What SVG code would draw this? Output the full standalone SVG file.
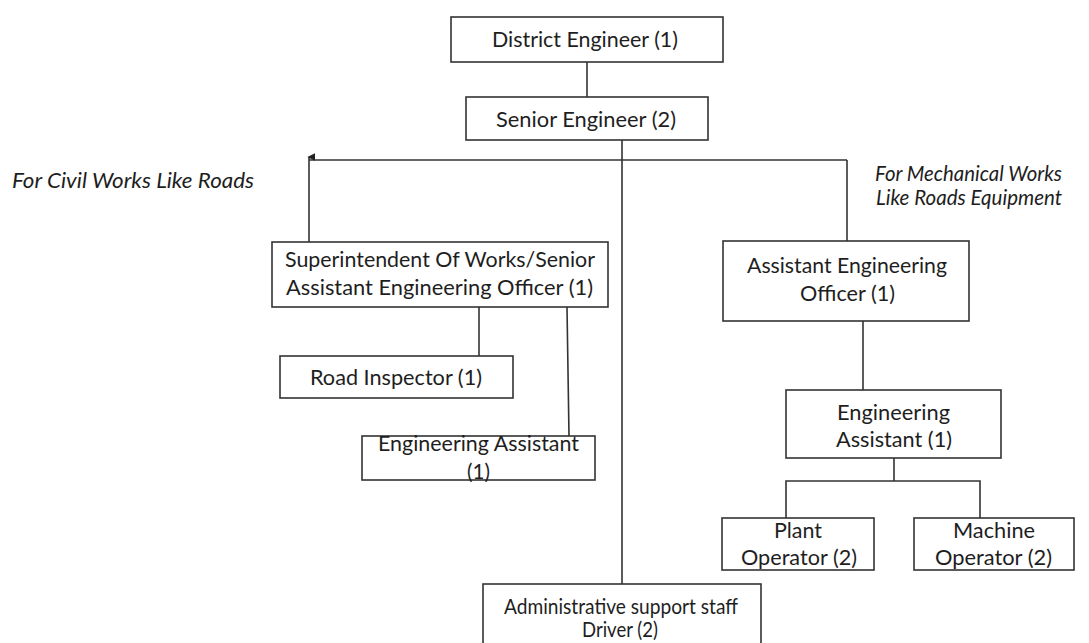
<svg xmlns="http://www.w3.org/2000/svg" width="1089" height="643" viewBox="0 0 1089 643">
<defs>
<style>
.box{fill:#fff;stroke:#333;stroke-width:1.6}
.ln{stroke:#333;stroke-width:1.6;fill:none}
text{font-family:Lato,"Open Sans","Liberation Sans",sans-serif;font-size:21px;fill:#1e1e1e;text-anchor:start}
.it{font-style:italic}
</style>
<marker id="arr" viewBox="0 0 10 10" refX="5" refY="2" markerWidth="8" markerHeight="8" markerUnits="userSpaceOnUse" orient="auto-start-reverse">
<path d="M0,10 L5,0 L10,10 Z" fill="#222"/>
</marker>
</defs>
<rect width="1089" height="643" fill="#fff"/>
<g id="connectors">
<line class="ln" x1="587" y1="62" x2="587" y2="97"/>
<line class="ln" x1="622" y1="140" x2="622" y2="584"/>
<line class="ln" x1="309" y1="160" x2="847" y2="160"/>
<path class="ln" d="M309,242 L309,157" marker-end="url(#arr)"/>
<line class="ln" x1="847" y1="160" x2="847" y2="241"/>
<line class="ln" x1="479" y1="307" x2="479" y2="356"/>
<line class="ln" x1="567" y1="307" x2="569" y2="436"/>
<line class="ln" x1="863" y1="321" x2="863" y2="390"/>
<line class="ln" x1="894" y1="458" x2="894" y2="481"/>
<path class="ln" d="M786,518 L786,481 L980,481 L980,518"/>
</g>
<g id="labels">
<text class="it" x="12" y="188" textLength="242" lengthAdjust="spacingAndGlyphs">For Civil Works Like Roads</text>
<text class="it" x="875" y="181" textLength="187" lengthAdjust="spacingAndGlyphs">For Mechanical Works</text>
<text class="it" x="876" y="205" textLength="186" lengthAdjust="spacingAndGlyphs">Like Roads Equipment</text>
</g>
<g id="district-engineer">
<rect class="box" x="451" y="17" width="272" height="45"/>
<text x="492" y="47" textLength="186" lengthAdjust="spacingAndGlyphs">District Engineer (1)</text>
</g>
<g id="senior-engineer">
<rect class="box" x="466" y="97" width="242" height="43"/>
<text x="496" y="127" textLength="180" lengthAdjust="spacingAndGlyphs">Senior Engineer (2)</text>
</g>
<g id="superintendent">
<rect class="box" x="272" y="242" width="336" height="65"/>
<text x="285" y="267" textLength="310" lengthAdjust="spacingAndGlyphs">Superintendent Of Works/Senior</text>
<text x="286" y="295" textLength="307" lengthAdjust="spacingAndGlyphs">Assistant Engineering  Officer (1)</text>
</g>
<g id="assistant-engineering-officer">
<rect class="box" x="723" y="241" width="246" height="80"/>
<text x="747" y="273" textLength="200" lengthAdjust="spacingAndGlyphs">Assistant Engineering</text>
<text x="800" y="301" textLength="95" lengthAdjust="spacingAndGlyphs">Officer (1)</text>
</g>
<g id="road-inspector">
<rect class="box" x="280" y="356" width="233" height="42"/>
<text x="310" y="385" textLength="172" lengthAdjust="spacingAndGlyphs">Road Inspector (1)</text>
</g>
<g id="engineering-assistant-left">
<rect class="box" x="362" y="436" width="233" height="44"/>
<text x="378" y="451" textLength="201" lengthAdjust="spacingAndGlyphs">Engineering Assistant</text>
<text x="467" y="479" textLength="23" lengthAdjust="spacingAndGlyphs">(1)</text>
</g>
<g id="engineering-assistant-right">
<rect class="box" x="786" y="390" width="215" height="68"/>
<text x="837" y="420" textLength="113" lengthAdjust="spacingAndGlyphs">Engineering</text>
<text x="836" y="447" textLength="116" lengthAdjust="spacingAndGlyphs">Assistant (1)</text>
</g>
<g id="plant-operator">
<rect class="box" x="722" y="518" width="152" height="52"/>
<text x="774" y="538" textLength="48" lengthAdjust="spacingAndGlyphs">Plant</text>
<text x="741" y="565" textLength="116" lengthAdjust="spacingAndGlyphs">Operator (2)</text>
</g>
<g id="machine-operator">
<rect class="box" x="914" y="518" width="160" height="52"/>
<text x="953" y="538" textLength="82" lengthAdjust="spacingAndGlyphs">Machine</text>
<text x="935" y="565" textLength="117" lengthAdjust="spacingAndGlyphs">Operator (2)</text>
</g>
<g id="admin-staff">
<rect class="box" x="483" y="584" width="278" height="70"/>
<text x="504" y="614" textLength="234" lengthAdjust="spacingAndGlyphs">Administrative support staff</text>
<text x="582" y="637" textLength="76" lengthAdjust="spacingAndGlyphs">Driver (2)</text>
</g>
</svg>
